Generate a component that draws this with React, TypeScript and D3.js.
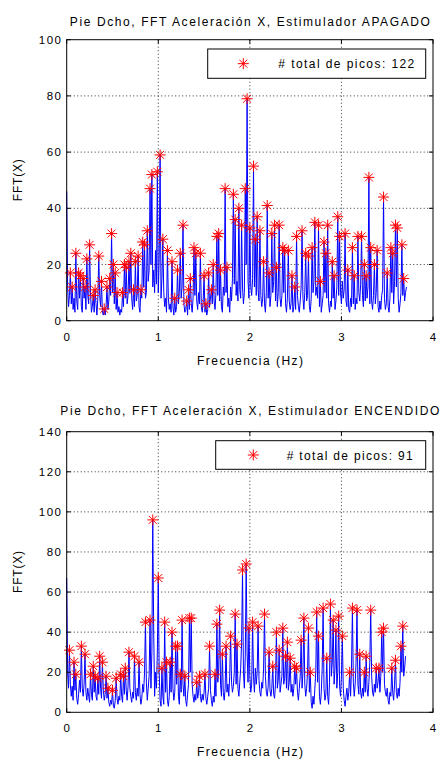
import React from "react";
import * as d3 from "d3";

const FREQ_STEP = 0.01;

const topValues = [
  46,12,5,9,17,6,12,4,8,3,
  24,7,4,17,8,16,5,3,15,8,
  12,4,22,9,6,27,10,3,5,9,
  3,11,6,2,8,23,9,5,14,3,
  2,4.2,2,5,12,4,7,15,9,31,
  10,20,6,17,4,10,3,5,2,4,
  3,10,5,20,8,19,6,9,21,10,
  24,8,4,11,5,21,7,9,23,5,
  3,11,8,28,12,27,8,10,32,14,
  18,47,20,52,12,18,10,25,13,53,
  10,22,59,8,15,29,10,5,8,3,
  25,8,4,6,3,21,5,2,8,3,
  5,18,6,10,24,8,12,34,6,3,
  4,7,2,11,4,15,6,3,8,26,
  9,24,7,4,10,6,24,5,3,7,
  16,3,6,2,4,17,5,8,11,6,
  20,7,4,10,30,9,31,7,18,5,
  3,12,9,47,10,19,5,8,3,12,
  7,15,45,13,36,9,14,7,40,11,
  8,34,12,6,10,47,20,79,14,8,
  33,12,9,15,55,12,29,9,37,11,
  7,32,9,5,8,21,6,3,10,41,
  8,17,5,9,31,10,14,34,7,19,
  5,10,34,8,5,9,26,10,25,6,
  3,8,25,7,4,6,16,3,5,12,
  4,30,9,5,3,7,12,32,8,4,
  10,24,7,9,23,5,3,8,26,10,
  14,35,9,12,8,34,5,14,3,6,
  9,28,10,24,8,34,6,3,7,5,
  21,8,16,4,7,12,37,9,30,10,
  6,14,8,11,31,7,5,18,4,3,
  8,5,26,6,16,4,8,6,30,10,
  7,13,30,9,5,20,7,16,8,12,
  51,6,26,7,4,9,20,6,10,25,
  5,3,7,4,9,11,44,8,4,6,
  17,5,3,8,26,10,24,6,14,34,
  12,33,8,3,6,10,27,9,15,7,
  10,12,
];

const topPeakIdx = [
  4,6,10,13,15,18,20,22,25,29,31,35,38,41,44,47,49,51,53,55,61,63,65,68,70,73,75,78,81,83,85,88,
  91,93,99,102,105,110,115,118,121,124,127,131,133,135,139,141,146,150,152,155,158,160,164,166,168,
  173,175,182,184,188,191,195,197,200,204,206,208,211,215,219,221,224,227,229,232,236,238,242,246,
  249,251,257,261,264,268,271,275,277,281,283,285,290,292,296,298,304,307,312,314,318,322,325,327,
  330,332,336,339,346,350,354,356,359,361,366,368,
];

const bottomValues = [
  67,20,12,31,14,8,13,6,25,11,
  19,7,4,9,16,10,33,12,8,14,
  29,10,6,12,8,5,19,9,6,23,
  10,18,8,6,17,9,28,12,7,25,
  11,6,9,18,7,12,5,3,6,4,
  11,3,2,6,17,7,4,8,6,19,
  8,5,18,9,22,11,6,13,30,12,
  8,5,10,7,28,10,6,12,8,25,
  9,4,7,14,10,20,45,15,6,12,
  18,46,12,30,96,40,8,20,12,30,
  67,20,6,3,22,8,4,45,10,25,
  6,3,8,25,10,40,12,6,10,33,
  14,33,8,4,19,10,46,14,8,18,
  6,3,9,14,47,20,47,14,8,5,
  9,6,15,7,10,18,8,5,9,6,
  10,19,7,4,8,12,33,11,6,3,
  8,5,19,8,44,15,22,51,14,8,
  29,10,6,12,33,10,14,8,18,38,
  15,10,13,20,49,14,34,12,8,15,
  22,35,71,20,12,28,74,30,15,42,
  18,10,14,45,18,10,22,14,20,43,
  16,10,8,15,12,22,49,18,10,8,
  13,30,11,8,12,23,9,7,14,40,
  12,16,31,10,14,18,42,14,17,28,
  12,35,11,15,27,10,14,8,12,23,
  14,22,10,6,12,18,36,12,20,47,
  14,8,12,20,42,10,20,5,2,8,
  4,12,20,50,15,38,8,4,10,22,
  52,12,6,9,27,8,4,15,54,18,
  25,46,14,22,41,12,20,48,13,8,
  18,38,12,6,3,8,12,6,10,20,
  8,22,52,15,8,14,25,51,14,9,
  29,10,7,12,8,20,10,28,12,8,
  15,25,51,18,10,8,14,10,22,12,
  15,22,10,18,40,20,42,14,10,8,
  12,6,4,10,8,22,10,6,14,26,
  10,7,12,8,15,33,20,43,18,22,
  28,
];

const bottomPeakIdx = [
  3,8,10,16,20,26,29,31,34,36,39,43,45,50,54,59,62,64,68,74,79,86,91,94,100,104,107,109,113,115,
  119,121,124,126,129,134,136,142,145,151,156,162,164,167,170,174,179,184,186,192,196,199,203,209,
  216,221,225,229,232,236,239,241,244,249,251,256,259,264,266,273,275,280,284,288,291,294,297,301,
  309,312,317,320,325,327,332,338,341,344,346,355,359,365,367,
];

const xTicks = [0, 1, 2, 3, 4];
const topYTicks = [0, 20, 40, 60, 80, 100];
const bottomYTicks = [0, 20, 40, 60, 80, 100, 120, 140];
const topTitle = "Pie Dcho, FFT Aceleración X, Estimulador APAGADO";
const bottomTitle = "Pie Dcho, FFT Aceleración X, Estimulador ENCENDIDO";
const topLegend = "# total de picos: 122";
const bottomLegend = "# total de picos: 91";
const xLabel = "Frecuencia (Hz)";
const yLabel = "FFT(X)";

const FONT = "'Liberation Sans', Arial, Helvetica, sans-serif";
const X0 = 66.7;
const X1 = 433;

function starPath(x: number, y: number, r: number) {
  const d = r * 0.72;
  return `M${x - r},${y}H${x + r}M${x},${y - r}V${y + r}M${x - d},${y - d}L${x + d},${y + d}M${x - d},${y + d}L${x + d},${y - d}`;
}

type PanelProps = {
  values: number[];
  peaks: number[];
  yTicks: number[];
  yTop: number;
  yBottom: number;
  title: string;
  titleY: number;
  titleLen: number;
  legend: string;
  legendRect: [number, number, number, number];
  legendStarX: number;
  legendTextX: number;
  legendTextLen: number;
};

function Panel(p: PanelProps) {
  const yMax = p.yTicks[p.yTicks.length - 1];
  const x = d3.scaleLinear().domain([0, 4]).range([X0, X1]);
  const y = d3.scaleLinear().domain([0, yMax]).range([p.yBottom, p.yTop]);
  const line = d3
    .line<number>()
    .x((_, i) => x(i * FREQ_STEP))
    .y((v) => y(v));
  const [lx, ly, lw, lh] = p.legendRect;
  const cx = (X0 + X1) / 2;
  const cy = (p.yTop + p.yBottom) / 2;
  return (
    <g fontFamily={FONT} fill="#000">
      {xTicks.slice(1, -1).map((t) => (
        <line key={"gx" + t} x1={x(t)} x2={x(t)} y1={p.yTop} y2={p.yBottom} stroke="#000" strokeWidth={0.8} strokeDasharray="1,2.5" />
      ))}
      {p.yTicks.slice(1, -1).map((t) => (
        <line key={"gy" + t} x1={X0} x2={X1} y1={y(t)} y2={y(t)} stroke="#000" strokeWidth={0.8} strokeDasharray="1,2.5" />
      ))}
      <path d={line(p.values) || ""} fill="none" stroke="#0000ff" strokeWidth={1} />
      {p.peaks.map((i) => (
        <path key={"pk" + i} d={starPath(x(i * FREQ_STEP), y(p.values[i]), 5.5)} stroke="#ff0000" strokeWidth={1} fill="none" />
      ))}
      <rect x={X0} y={p.yTop} width={X1 - X0} height={p.yBottom - p.yTop} fill="none" stroke="#000" strokeWidth={1} />
      {xTicks.map((t) => (
        <g key={"tx" + t}>
          <line x1={x(t)} x2={x(t)} y1={p.yBottom} y2={p.yBottom - 4} stroke="#000" />
          <line x1={x(t)} x2={x(t)} y1={p.yTop} y2={p.yTop + 4} stroke="#000" />
          <text x={x(t)} y={p.yBottom + 20} textAnchor="middle" fontSize={11.5}>
            {t}
          </text>
        </g>
      ))}
      {p.yTicks.map((t) => (
        <g key={"ty" + t}>
          <line x1={X0} x2={X0 + 4} y1={y(t)} y2={y(t)} stroke="#000" />
          <line x1={X1} x2={X1 - 4} y1={y(t)} y2={y(t)} stroke="#000" />
          <text x={61} y={y(t) + 4} textAnchor="end" fontSize={11.5} letterSpacing={String(t).length > 1 ? 1.5 : 0} dx={String(t).length > 1 ? 1.5 : 0}>
            {t}
          </text>
        </g>
      ))}
      <text x={cx} y={p.titleY} textAnchor="middle" fontSize={12} textLength={p.titleLen} lengthAdjust="spacing">
        {p.title}
      </text>
      <text x={250} y={p.yBottom + 44} textAnchor="middle" fontSize={12} textLength={106} lengthAdjust="spacing">
        {xLabel}
      </text>
      <text transform={`translate(22,${cy}) rotate(-90)`} textAnchor="middle" fontSize={12} textLength={42} lengthAdjust="spacing">
        {yLabel}
      </text>
      <rect x={lx} y={ly} width={lw} height={lh} fill="#fff" stroke="#000" strokeWidth={1} />
      <path d={starPath(p.legendStarX, ly + lh / 2, 5.5)} stroke="#ff0000" strokeWidth={1} fill="none" />
      <text x={p.legendTextX} y={ly + lh / 2 + 4.5} fontSize={12} textLength={p.legendTextLen} lengthAdjust="spacing">
        {p.legend}
      </text>
    </g>
  );
}

export default function App() {
  return (
    <svg width={441} height={761} style={{ position: "absolute", left: 0, top: 0, background: "#fff" }}>
      <rect x={0} y={0} width={441} height={761} fill="#fff" />
      <Panel
        values={topValues}
        peaks={topPeakIdx}
        yTicks={topYTicks}
        yTop={39.7}
        yBottom={320.7}
        title={topTitle}
        titleY={26}
        titleLen={360}
        legend={topLegend}
        legendRect={[207.7, 49, 218, 29.3]}
        legendStarX={243.3}
        legendTextX={278.3}
        legendTextLen={136}
      />
      <Panel
        values={bottomValues}
        peaks={bottomPeakIdx}
        yTicks={bottomYTicks}
        yTop={431.7}
        yBottom={712.3}
        title={bottomTitle}
        titleY={415}
        titleLen={379}
        legend={bottomLegend}
        legendRect={[215.7, 440.7, 210, 28.6]}
        legendStarX={253.3}
        legendTextX={286.7}
        legendTextLen={126}
      />
    </svg>
  );
}
